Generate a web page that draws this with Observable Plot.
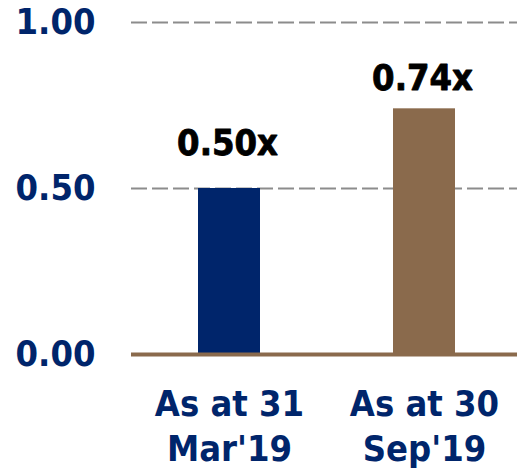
<!DOCTYPE html>
<html>
<head>
<meta charset="utf-8">
<script src="https://cdn.jsdelivr.net/npm/d3@7"></script>
<script src="https://cdn.jsdelivr.net/npm/@observablehq/plot@0.6"></script>
<style>
  html, body { margin: 0; padding: 0; background: #fff; }
  #chart svg { display: block; }
</style>
</head>
<body>
<div id="chart"></div>
<script>
const categories = ["As at 31\nMar'19", "As at 30\nSep'19"];
const values = [0.50, 0.74];
const valueLabels = ["0.50x", "0.74x"];
const yTicks = [0, 0.5, 1];
const yTickLabels = ["0.00", "0.50", "1.00"];
const colors = ["#00256B", "#8A6A4C"];

const data = categories.map((c, i) => ({cat: c, value: values[i], label: valueLabels[i], color: colors[i]}));

const font = "'DejaVu Sans Condensed', 'DejaVu Sans', sans-serif";
const navy = "#00256B";

const chart = Plot.plot({
  width: 517,
  height: 469,
  marginTop: 22,
  marginBottom: 115,
  marginLeft: 131,
  marginRight: 0,
  style: {fontFamily: font, fontWeight: "bold", fontSize: "36px", background: "#fff", fontStretch: "condensed"},
  x: {domain: categories, range: [131.5, 521.5], paddingInner: 0.68, paddingOuter: 0.34, label: null},
  y: {domain: [0, 1], label: null},
  marks: [
    Plot.ruleY([0.5, 1], {stroke: "#8c8c8c", strokeWidth: 2, strokeDasharray: "16,5"}),
    Plot.barY(data, {x: "cat", y: "value", fill: "color"}),
    Plot.ruleY([0], {stroke: "#8A6A4C", strokeWidth: 4}),
    Plot.text(data.filter(d => d.value < 0.6), {x: "cat", y: "value", text: "label", dy: -45, dx: -2, fill: "#000", stroke: "#000", strokeWidth: 0.8, fontSize: 36, fontWeight: "bold"}),
    Plot.text(data.filter(d => d.value >= 0.6), {x: "cat", y: "value", text: "label", dy: -30, dx: -2, fill: "#000", stroke: "#000", strokeWidth: 0.8, fontSize: 36, fontWeight: "bold"}),
    Plot.axisY({ticks: yTicks, tickFormat: (d) => yTickLabels[yTicks.indexOf(d)], tickSize: 0, tickPadding: 36, fill: navy, stroke: navy, strokeWidth: 0.8, fontSize: 36, fontWeight: "bold", label: null}),
    Plot.axisX({tickSize: 0, tickPadding: 30, fill: navy, stroke: navy, strokeWidth: 0.8, fontSize: 36, fontWeight: "bold", lineHeight: 1.25, label: null})
  ]
});
document.getElementById("chart").appendChild(chart);
</script>
</body>
</html>
